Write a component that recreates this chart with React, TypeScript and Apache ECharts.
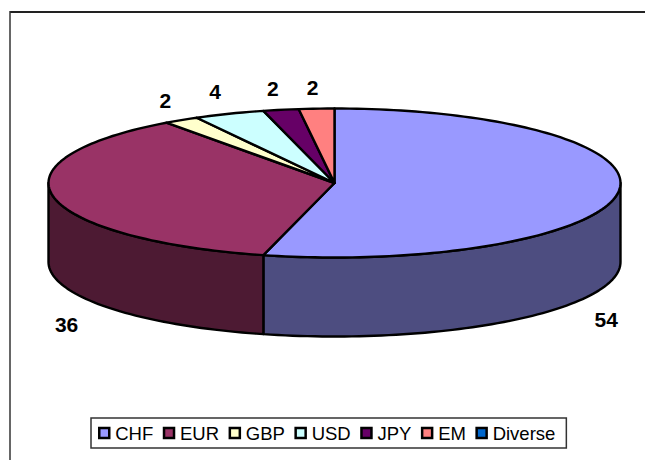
import React, { useEffect, useRef } from "react";
import * as echarts from "echarts";

const categories = ["CHF", "EUR", "GBP", "USD", "JPY", "EM", "Diverse"];
const shares = [54, 36, 2, 4, 2, 2, 0];
const topColors = ["#9999FF", "#993366", "#FFFFCC", "#CCFFFF", "#660066", "#FF8080", "#0066CC"];
const wallColors = ["#4D4D80", "#4D1A33", "#80806A", "#6A8080", "#330033", "#804040", "#003366"];
const labelOffsets = [[-12, 127], [13, 128], [-16, -20], [-14, -22], [-8, -21], [-4, -21], [0, 0]];

const CX = 334.5, CY = 183, RX = 286, RY = 74.5, DEPTH = 79;
const total = shares.reduce((a, b) => a + b, 0);

const rim = (deg: number, dy = 0): number[] => {
  const t = (deg * Math.PI) / 180;
  return [CX + RX * Math.sin(t), CY - RY * Math.cos(t) + dy];
};
const arc = (a: number, b: number, dy = 0): number[][] => {
  const n = Math.max(2, Math.ceil(Math.abs(b - a) / 1.5));
  const pts: number[][] = [];
  for (let i = 0; i <= n; i++) pts.push(rim(a + ((b - a) * i) / n, dy));
  return pts;
};

export default function App() {
  const ref = useRef<HTMLDivElement>(null);
  useEffect(() => {
    const chart = echarts.init(ref.current!, undefined, { renderer: "svg" });
    let cum = 0;
    const series = categories.map((name, idx) => {
      const start = (cum / total) * 360;
      cum += shares[idx];
      const end = (cum / total) * 360;
      return {
        type: "custom",
        name,
        coordinateSystem: "none",
        silent: true,
        itemStyle: { color: topColors[idx] },
        data: [shares[idx]],
        renderItem: () => {
          const children: any[] = [];
          if (end <= start) return { type: "group", children };
          const line = { stroke: "#000", lineWidth: 2.4, lineJoin: "round" };
          const wa = Math.max(start, 90), wb = Math.min(end, 270);
          if (wb > wa) {
            children.push({
              type: "polygon",
              shape: { points: [...arc(wa, wb), ...arc(wb, wa, DEPTH)] },
              style: { fill: wallColors[idx], ...line },
            });
          }
          children.push({
            type: "polygon",
            shape: { points: [[CX, CY], ...arc(start, end)] },
            style: { fill: topColors[idx], ...line },
          });
          const m = rim((start + end) / 2);
          children.push({
            type: "text",
            style: {
              text: String(shares[idx]),
              x: m[0] + labelOffsets[idx][0],
              y: m[1] + labelOffsets[idx][1],
              align: "center",
              verticalAlign: "middle",
              fill: "#000",
              font: 'bold 21px "Liberation Sans", Arial, sans-serif',
            },
          });
          return { type: "group", children };
        },
      };
    });
    chart.setOption({
      animation: false,
      backgroundColor: "#fff",
      graphic: [
        { type: "line", shape: { x1: 10, y1: 12, x2: 645, y2: 12 }, style: { stroke: "#222", lineWidth: 2 } },
        { type: "line", shape: { x1: 10, y1: 11, x2: 10, y2: 460 }, style: { stroke: "#333", lineWidth: 1.5 } },
      ],
      legend: {
        left: 91,
        top: 418,
        orient: "horizontal",
        data: categories,
        icon: "rect",
        itemWidth: 10,
        itemHeight: 10,
        itemGap: 9.5,
        padding: [5.5, 11, 5.5, 7],
        borderColor: "#333",
        borderWidth: 1.5,
        selectedMode: false,
        itemStyle: { borderColor: "#000", borderWidth: 2.5 },
        textStyle: { fontSize: 18.5, color: "#000", fontFamily: '"Liberation Sans", Arial, sans-serif', padding: [0, 0, 0, 1] },
      },
      series,
    });
    return () => chart.dispose();
  }, []);
  return <div ref={ref} style={{ position: "fixed", left: 0, top: 0, width: 645, height: 460 }} />;
}
